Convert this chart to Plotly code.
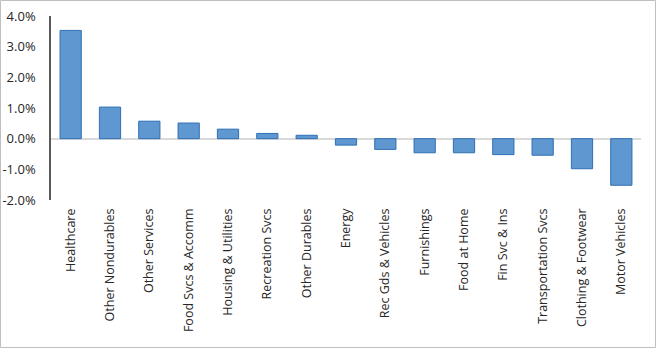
import plotly.graph_objects as go

# Contribution by spending category, in percent
categories = [
    "Healthcare", "Other Nondurables", "Other Services", "Food Svcs & Accomm",
    "Housing & Utilities", "Recreation Svcs", "Other Durables", "Energy",
    "Rec Gds & Vehicles", "Furnishings", "Food at Home", "Fin Svc & Ins",
    "Transportation Svcs", "Clothing & Footwear", "Motor Vehicles",
]
values = [3.53, 1.03, 0.57, 0.51, 0.31, 0.17, 0.11, -0.21,
          -0.35, -0.46, -0.46, -0.52, -0.54, -0.98, -1.52]

y_tick_values = [4, 3, 2, 1, 0, -1, -2]
y_tick_labels = ["4.0%", "3.0%", "2.0%", "1.0%", "0.0%", "-1.0%", "-2.0%"]

W, H = 656, 348
ML, MR, MT, MB = 51, 15, 16, 148
PW, PH = W - ML - MR, H - MT - MB

fig = go.Figure(
    go.Bar(
        x=categories,
        y=values,
        marker=dict(color="#5f97d0", line=dict(color="#2f6fb5", width=1)),
        hoverinfo="x+y",
    )
)

fig.update_layout(
    width=W,
    height=H,
    margin=dict(l=ML, r=MR, t=MT, b=MB, pad=0),
    paper_bgcolor="white",
    plot_bgcolor="white",
    bargap=0.46,
    showlegend=False,
    font=dict(family="Open Sans", color="#262626"),
)

fig.update_xaxes(
    tickangle=-90,
    tickfont=dict(size=12.5, color="#262626"),
    showgrid=False,
    showline=False,
    zeroline=False,
    ticks="",
    ticklabelstandoff=5,
    automargin=False,
)

fig.update_yaxes(
    range=[-2, 4],
    tickvals=y_tick_values,
    ticktext=y_tick_labels,
    tickfont=dict(size=13, color="#262626"),
    showgrid=False,
    showline=True,
    linecolor="#595959",
    linewidth=1.5,
    zeroline=True,
    zerolinecolor="#d9d9d9",
    zerolinewidth=1.5,
    ticks="",
    ticklabelstandoff=11,
    automargin=False,
)

# Thin frame around the whole chart
fig.add_shape(
    type="rect",
    xref="paper",
    yref="paper",
    x0=(0.5 - ML) / PW,
    x1=(W - 0.5 - ML) / PW,
    y0=-(H - 0.5 - MT - PH) / PH,
    y1=(PH + MT - 0.5) / PH,
    line=dict(color="#bfbfbf", width=1),
    fillcolor="rgba(0,0,0,0)",
    layer="above",
)

fig.write_html("out.html")
